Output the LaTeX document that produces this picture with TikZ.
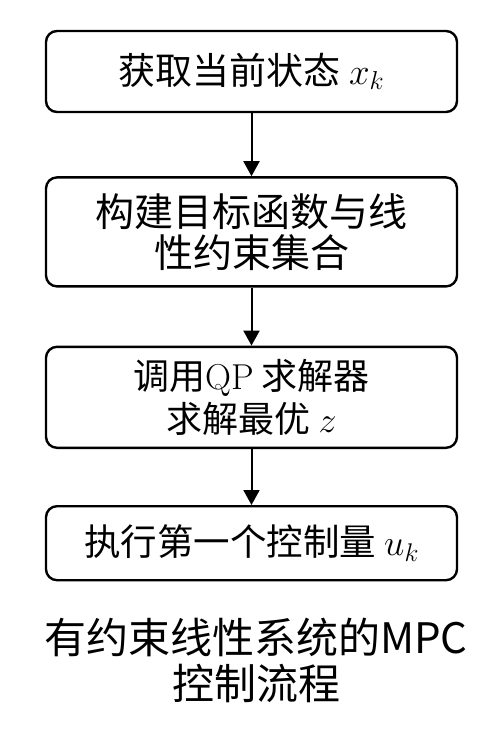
\RequirePackage{fix-cm}
\documentclass[tikz,border=0pt]{standalone}
\usepackage{fontspec}
\newfontfamily\cjk{Noto Sans CJK SC}
\usetikzlibrary{positioning}
\usetikzlibrary{arrows.meta}
\tikzset{
  stepbox/.style={draw, line width=2.4pt, rounded corners=11pt, minimum width=411pt, align=center, inner sep=0pt},
  flow/.style={line width=2pt, -{Triangle[length=15pt,width=16pt]}},
}

\begin{document}
\begin{tikzpicture}[x=1pt,y=-1pt]
\useasboundingbox (0,0) rectangle (501,751);
\node[stepbox, minimum height=81pt, font={\fontsize{37}{42}\selectfont\cjk}] (get) at (251.5,71.5) {获取当前状态 $x_k$};
\node[stepbox, minimum height=109pt, below=63pt of get, font={\fontsize{39}{41}\selectfont\cjk}] (build) {构建目标函数与线\\性约束集合};
\node[stepbox, minimum height=101pt, below=58pt of build, font={\fontsize{36}{43}\selectfont\cjk}] (solve) {调用{\rmfamily QP} 求解器\\求解最优 $z$};
\node[stepbox, minimum height=74pt, below=56pt of solve, font={\fontsize{36.5}{42}\selectfont\cjk}] (apply) {执行第一个控制量 $u_k$};
\draw[flow] (get) -- (build);
\draw[flow] (build) -- (solve);
\draw[flow] (solve) -- (apply);
% caption
\node[align=center, font={\fontsize{42}{46}\selectfont\cjk}] (title) at (256,660) {有约束线性系统的MPC\\控制流程};
\end{tikzpicture}
\end{document}
